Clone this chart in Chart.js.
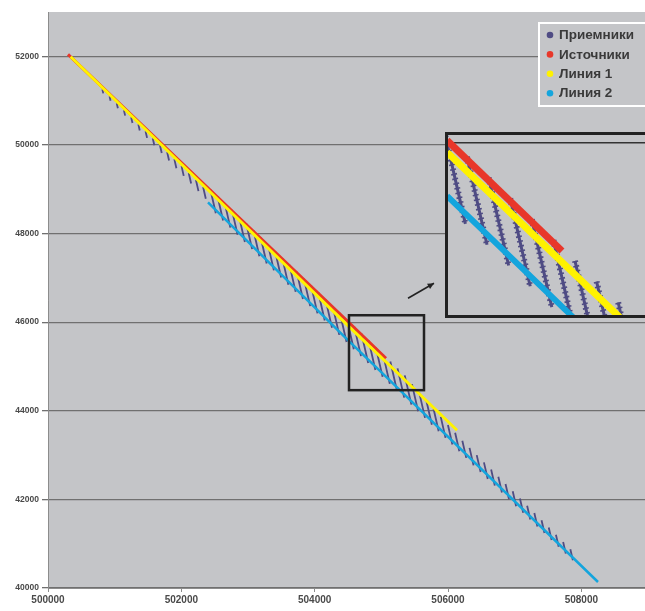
<!DOCTYPE html>
<html>
<head>
<meta charset="utf-8">
<script src="https://cdn.jsdelivr.net/npm/chart.js@4.4.0/dist/chart.umd.min.js"></script>
<style>
  body { margin: 0; background: #fff; }
  #wrap { position: relative; width: 645px; height: 611px; }
  canvas { display: block; }
  #inset {
    position: absolute; left: 445px; top: 132px; width: 200px; height: 186px;
    border: 3px solid #222; border-right: none; box-sizing: border-box; background: #c4c5c8;
  }
</style>
</head>
<body>
<div id="wrap">
  <canvas id="mainChart" width="645" height="611"></canvas>
  <div id="inset"><canvas id="insetChart" width="197" height="180"></canvas></div>
</div>
<script>
// series names / colours
const seriesNames = ['Приемники', 'Источники', 'Линия 1', 'Линия 2'];
const seriesColors = ['#4f4c84', '#e8372a', '#fff200', '#14a5dd'];

// axis ticks
const xTicks = [500000, 502000, 504000, 506000, 508000];
const yTicks = [40000, 42000, 44000, 46000, 48000, 50000, 52000];

// sources (red) and the two lines
const redX = [500300, 504495, 505070];
const redY = [52045, 46018, 45186];
const yellowX = [500340, 504495, 505335, 506135];
const yellowY = [51990, 45928, 44722, 43560];
const blueX = [502400, 504495, 505100, 508250];
const blueY = [48704, 45600, 44725, 40135];

// receiver lines: top and bottom ends of every line
const rcvTopX = [500815, 500923, 501031, 501139, 501247, 501355, 501463, 501571, 501679, 501787,
  501895, 502003, 502111, 502219, 502327, 502435, 502543, 502651, 502759, 502867,
  502975, 503083, 503191, 503299, 503407, 503515, 503623, 503731, 503839, 503947,
  504055, 504163, 504271, 504379, 504487, 504595, 504703, 504811, 504919, 505027,
  505135, 505243, 505351, 505459, 505567, 505675, 505783, 505891, 505999, 506107,
  506215, 506323, 506431, 506539, 506647, 506755, 506863, 506971, 507079, 507187,
  507295, 507403, 507511, 507619, 507727, 507835];
const rcvTopY = [51254, 51097, 50939, 50782, 50624, 50467, 50309, 50152, 49994, 49837,
  49679, 49522, 49365, 49207, 49050, 48998, 48842, 48687, 48532, 48377,
  48222, 48067, 47912, 47756, 47601, 47446, 47291, 47136, 46981, 46825,
  46670, 46515, 46360, 46205, 46050, 45893, 45737, 45581, 45424, 45268,
  45112, 44956, 44799, 44602, 44420, 44232, 44045, 43863, 43680, 43503,
  43325, 43163, 43000, 42836, 42673, 42510, 42346, 42183, 42020, 41856,
  41693, 41530, 41366, 41203, 41039, 40876];
const rcvBotX = [500829, 500938, 501048, 501157, 501267, 501376, 501486, 501595, 501706, 501816,
  501926, 502036, 502147, 502257, 502367, 502517, 502626, 502735, 502844, 502953,
  503062, 503171, 503280, 503388, 503497, 503606, 503715, 503824, 503933, 504042,
  504151, 504260, 504369, 504478, 504587, 504695, 504803, 504911, 505019, 505127,
  505235, 505343, 505451, 505552, 505655, 505758, 505860, 505963, 506066, 506170,
  506274, 506383, 506489, 506596, 506702, 506809, 506915, 507022, 507128, 507234,
  507341, 507447, 507554, 507660, 507767, 507873];
const rcvBotY = [51164, 50997, 50829, 50662, 50494, 50327, 50159, 49992, 49819, 49647,
  49474, 49302, 49130, 48957, 48785, 48457, 48294, 48133, 47971, 47809,
  47648, 47486, 47325, 47169, 47007, 46845, 46684, 46522, 46361, 46198,
  46036, 45875, 45713, 45552, 45390, 45233, 45077, 44921, 44764, 44608,
  44452, 44296, 44139, 43988, 43839, 43684, 43537, 43388, 43238, 43087,
  42936, 42767, 42617, 42460, 42310, 42154, 42003, 41846, 41697, 41546,
  41389, 41240, 41082, 40932, 40775, 40625];

// framed area on the main plot and the arrow pointing to the inset
const zoomBox = [504515, 505640, 44465, 46156];
const arrowLine = [505400, 46540, 505790, 46878];

// inset ranges
const insetX = [504500, 505485];
const insetY = [44705, 46058];

const toPts = (xs, ys) => xs.map((x, i) => ({ x: x, y: ys[i] }));

function receiverPts() {
  const pts = [];
  rcvTopX.forEach((x, i) => {
    pts.push({ x: x, y: rcvTopY[i] });
    pts.push({ x: rcvBotX[i], y: rcvBotY[i] });
    pts.push({ x: rcvBotX[i], y: null });
  });
  return pts;
}

function makeSets(w) {
  const base = { showLine: true, pointRadius: 0, pointHoverRadius: 0, spanGaps: false, borderCapStyle: 'butt' };
  const sets = [
    Object.assign({}, base, { label: seriesNames[0], data: receiverPts(), borderColor: seriesColors[0],
      borderWidth: w.rcv, order: 4 }),
    Object.assign({}, base, { label: seriesNames[1], data: toPts(redX, redY), borderColor: seriesColors[1],
      borderWidth: w.red, order: 2 }),
    Object.assign({}, base, { label: seriesNames[2], data: toPts(yellowX, yellowY), borderColor: seriesColors[2],
      borderWidth: w.yellow, order: 1 }),
    Object.assign({}, base, { label: seriesNames[3], data: toPts(blueX, blueY), borderColor: seriesColors[3],
      borderWidth: w.blue, order: 0 })
  ];
  if (w.bumps) {
    // beaded look of the "+" markers in the enlarged view
    sets.push(Object.assign({}, base, { label: seriesNames[0], data: receiverPts(), borderColor: seriesColors[0],
      borderWidth: w.bumps, borderDash: [1.6, 3.2], order: 3 }));
  }
  return sets;
}

const bgPlugin = {
  id: 'plotBg',
  beforeDraw(chart) {
    const a = chart.chartArea, ctx = chart.ctx;
    ctx.save();
    ctx.fillStyle = '#c4c5c8';
    ctx.fillRect(a.left, a.top, a.right - a.left, a.bottom - a.top);
    ctx.restore();
  }
};

const boxPlugin = {
  id: 'zoomFrame',
  afterDatasetsDraw(chart) {
    const xs = chart.scales.x, ys = chart.scales.y, ctx = chart.ctx;
    const x1 = xs.getPixelForValue(zoomBox[0]), x2 = xs.getPixelForValue(zoomBox[1]);
    const y1 = ys.getPixelForValue(zoomBox[3]), y2 = ys.getPixelForValue(zoomBox[2]);
    ctx.save();
    ctx.strokeStyle = '#222';
    ctx.lineWidth = 2.5;
    ctx.strokeRect(x1, y1, x2 - x1, y2 - y1);
    // arrow
    const ax = xs.getPixelForValue(arrowLine[0]), ay = ys.getPixelForValue(arrowLine[1]);
    const bx = xs.getPixelForValue(arrowLine[2]), by = ys.getPixelForValue(arrowLine[3]);
    ctx.lineWidth = 1.6;
    ctx.beginPath(); ctx.moveTo(ax, ay); ctx.lineTo(bx, by); ctx.stroke();
    const ang = Math.atan2(by - ay, bx - ax);
    ctx.fillStyle = '#222';
    ctx.beginPath();
    ctx.moveTo(bx, by);
    ctx.lineTo(bx - 7 * Math.cos(ang - 0.45), by - 7 * Math.sin(ang - 0.45));
    ctx.lineTo(bx - 7 * Math.cos(ang + 0.45), by - 7 * Math.sin(ang + 0.45));
    ctx.closePath(); ctx.fill();
    ctx.restore();
  }
};

const legendPlugin = {
  id: 'boxLegend',
  afterDraw(chart) {
    const ctx = chart.ctx;
    ctx.save();
    ctx.fillStyle = '#c4c5c8';
    ctx.fillRect(539, 23, 110, 83);
    ctx.strokeStyle = '#ffffff';
    ctx.lineWidth = 2;
    ctx.strokeRect(539, 23, 110, 83);
    ctx.font = 'bold 13.5px "Liberation Sans", Arial, sans-serif';
    ctx.textBaseline = 'middle';
    seriesNames.forEach((name, i) => {
      const y = 35 + i * 19.4;
      ctx.fillStyle = seriesColors[i];
      ctx.beginPath(); ctx.arc(550, y, 3.3, 0, Math.PI * 2); ctx.fill();
      ctx.fillStyle = '#3a3a3a';
      ctx.fillText(name, 559, y + 0.5);
    });
    ctx.restore();
  }
};

const tickFont = { family: '"Liberation Sans", Arial, sans-serif', weight: 'bold' };

new Chart(document.getElementById('mainChart'), {
  type: 'scatter',
  data: { datasets: makeSets({ rcv: 1.8, red: 3, yellow: 3, blue: 2.5 }) },
  options: {
    responsive: false,
    animation: false,
    devicePixelRatio: 1,
    layout: { padding: { top: 12, right: 0, left: 0, bottom: 0 } },
    plugins: { legend: { display: false }, tooltip: { enabled: false } },
    scales: {
      x: {
        type: 'linear', min: 500000, max: 508955,
        afterBuildTicks: s => { s.ticks = xTicks.map(v => ({ value: v })); },
        afterFit: s => { s.height = 23; },
        grid: { drawOnChartArea: false, color: '#8c8c8c', tickLength: 4 },
        border: { color: '#8c8c8c', width: 1 },
        ticks: { padding: 2, color: '#4a4a4a', autoSkip: false, maxRotation: 0,
          font: Object.assign({ size: 10 }, tickFont), callback: v => String(v) }
      },
      y: {
        type: 'linear', min: 40000, max: 53000,
        afterBuildTicks: s => { s.ticks = yTicks.map(v => ({ value: v })); },
        afterFit: s => { s.width = 48; },
        grid: { color: '#707070', lineWidth: 1.3, tickLength: 6 },
        border: { color: '#8c8c8c', width: 1 },
        ticks: { padding: 3, color: '#4a4a4a',
          font: Object.assign({ size: 8.5 }, tickFont), callback: v => String(v) }
      }
    }
  },
  plugins: [bgPlugin, boxPlugin, legendPlugin]
});

new Chart(document.getElementById('insetChart'), {
  type: 'scatter',
  data: { datasets: makeSets({ rcv: 3, bumps: 6, red: 7, yellow: 7, blue: 6 }) },
  options: {
    responsive: false,
    animation: false,
    devicePixelRatio: 1,
    layout: { padding: 0 },
    plugins: { legend: { display: false }, tooltip: { enabled: false } },
    scales: {
      x: { type: 'linear', display: false, min: insetX[0], max: insetX[1] },
      y: {
        type: 'linear', min: insetY[0], max: insetY[1],
        afterBuildTicks: s => { s.ticks = [{ value: 46000 }]; },
        afterFit: s => { s.width = 0; },
        grid: { color: '#333', lineWidth: 1.5, drawTicks: false },
        border: { display: false },
        ticks: { display: false }
      }
    }
  },
  plugins: [bgPlugin]
});
</script>
</body>
</html>
